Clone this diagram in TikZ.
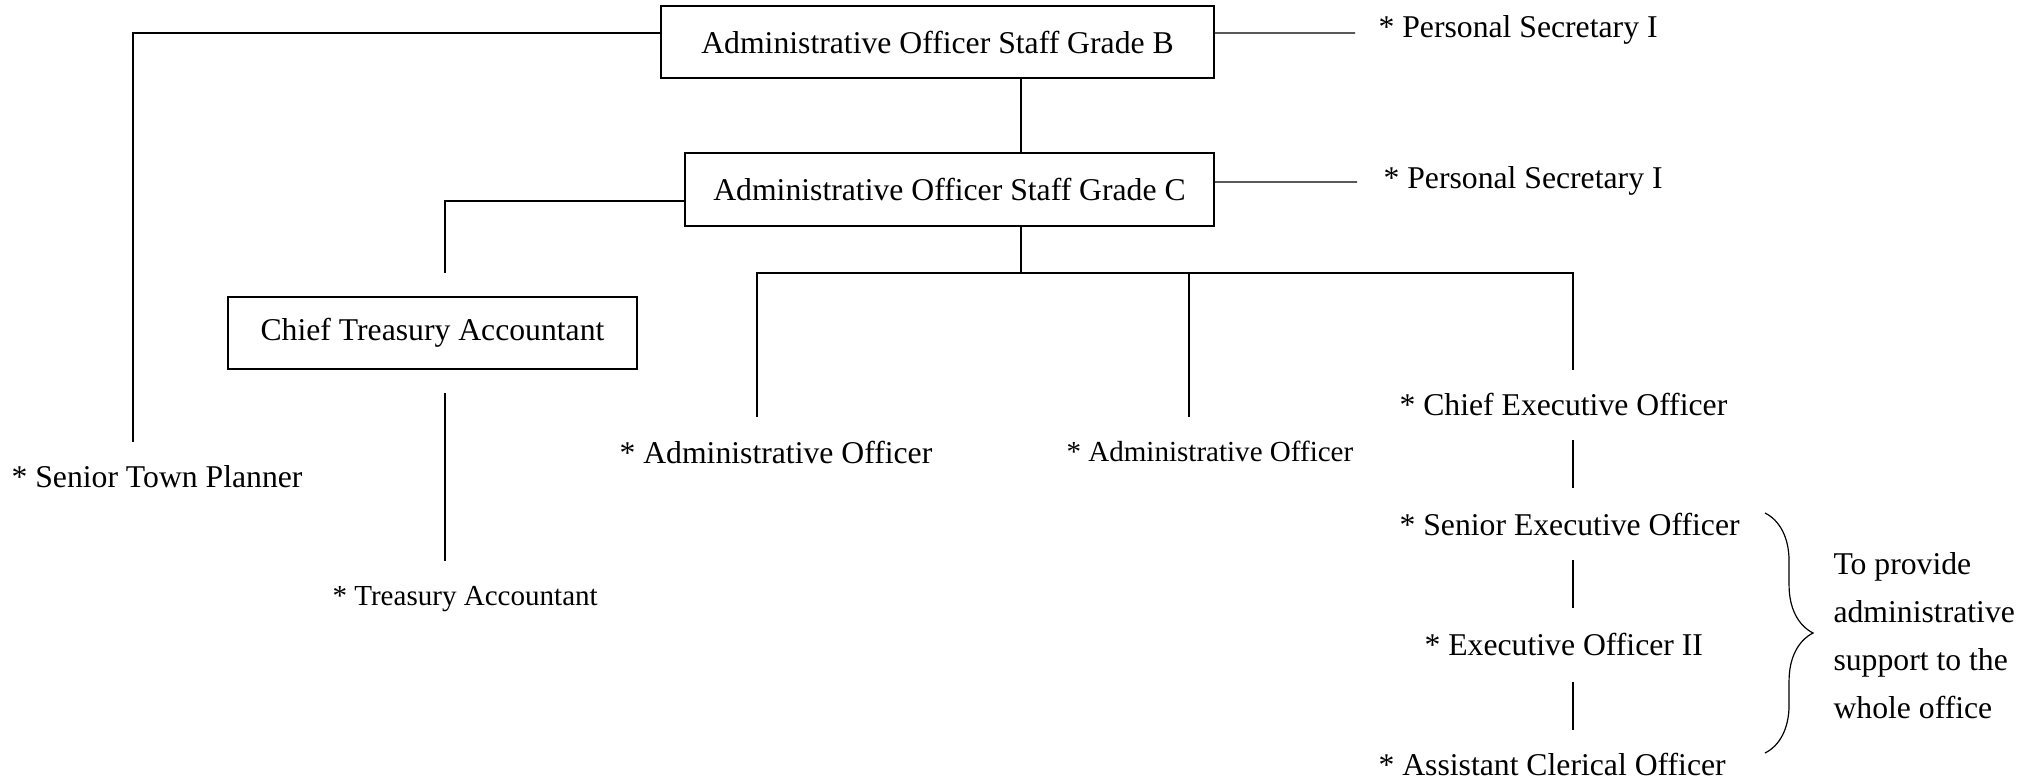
\documentclass[tikz,border=0pt]{standalone}
\usepackage{fontspec}
\setmainfont{Liberation Serif}
\usetikzlibrary{decorations.pathreplacing}

\tikzset{
  post/.style={draw, line width=0.6pt, inner sep=0pt, font=\fontsize{12}{14}\selectfont},
  grade/.style={inner sep=0pt, anchor=base west, font=\fontsize{12}{14}\selectfont},
  gradesmall/.style={grade, font=\fontsize{11}{13}\selectfont},
  link/.style={line width=0.45pt},
}

\begin{document}
\begin{tikzpicture}[x=0.01330cm, y=-0.01330cm]
                \useasboundingbox (0,0) rectangle (2042,781);

                % Boxed posts
                \node [post, minimum width=7.355cm, minimum height=0.958cm] (aosgB) at (937.5,42) {Administrative Officer Staff Grade B};%
                \node [post, minimum width=7.036cm, minimum height=0.971cm] (aosgC) at (949.5,189.5) {Administrative Officer Staff Grade C};%
                \node [post, minimum width=5.440cm, minimum height=0.958cm] (cta) at (432.5,333) {Chief Treasury Accountant};%

                % Posts without box
                \node [grade] (psB) at (1378,37) {* Personal Secretary I};%
                \node [grade] (psC) at (1383,188) {* Personal Secretary I};%
                \node [grade] (stp) at (11,487) {* Senior Town Planner};%
                \node [gradesmall] (ta) at (332,605) {* Treasury Accountant};%
                \node [grade] (aoL) at (619,463) {* Administrative Officer};%
                \node [gradesmall] (aoR) at (1066,461) {* Administrative Officer};%
                \node [grade] (ceo) at (1399,415) {* Chief Executive Officer};%
                \node [grade] (seo) at (1399,535) {* Senior Executive Officer};%
                \node [grade] (eo) at (1424,655) {* Executive Officer II};%
                \node [grade] (aco) at (1378,775) {* Assistant Clerical Officer};%
                \node [grade, align=left, font=\fontsize{12}{18.17}\selectfont] (note) at (1833,718) {To provide\\administrative\\support to the\\whole office};%

                % Free ends of the segments
                \coordinate (spine) at (1021,0);%
                \coordinate (stpTop) at (133,442);%
                \coordinate (psBEnd) at (1355,33);%
                \coordinate (psCEnd) at (1357,182);%
                \coordinate (ctaTop) at (445,273);%
                \coordinate (ctaFoot) at (445,393);%
                \coordinate (taTop) at (445,561);%
                \coordinate (bus) at (1021,273);%
                \coordinate (aoLTop) at (757,417);%
                \coordinate (aoRTop) at (1189,417);%
                \coordinate (ceoTop) at (1573,370);%
                \coordinate (ceoFoot) at (1573,440);%
                \coordinate (seoTop) at (1573,488);%
                \coordinate (seoFoot) at (1573,560);%
                \coordinate (eoTop) at (1573,608);%
                \coordinate (eoFoot) at (1573,682);%
                \coordinate (acoTop) at (1573,730);%

                % Drawing segment B - Senior Town Planner
                \draw [link] ([yshift=0.12cm]aosgB.west) -| (stpTop);%

                % Drawing segment B - Personal Secretary
                \draw [link] ([yshift=0.12cm]aosgB.east) -- (psBEnd);%

                % Drawing segment B - C
                \draw [link] (aosgB.south -| spine) -- (aosgC.north -| spine);%

                % Drawing segment C - Personal Secretary
                \draw [link] ([yshift=0.10cm]aosgC.east) -- (psCEnd);%

                % Drawing segment C - Chief Treasury Accountant
                \draw [link] ([yshift=-0.153cm]aosgC.west) -| (ctaTop);%

                % Drawing segment Chief Treasury Accountant - Treasury Accountant
                \draw [link] (ctaFoot) -- (taTop);%

                % Drawing segment C - bus
                \draw [link] (aosgC.south -| spine) -- (bus);%
                \draw [link] (aoLTop) |- (bus) -| (ceoTop);%
                \draw [link] (aoRTop) -- (aoRTop |- bus);%

                % Drawing segments down the executive line
                \draw [link] (ceoFoot) -- (seoTop);%
                \draw [link] (seoFoot) -- (eoTop);%
                \draw [link] (eoFoot) -- (acoTop);%

                % Brace round the executive grades
                \draw [link, decorate, decoration={brace, amplitude=18.2pt}] (1765,513) -- (1765,753);%
\end{tikzpicture}
\end{document}
